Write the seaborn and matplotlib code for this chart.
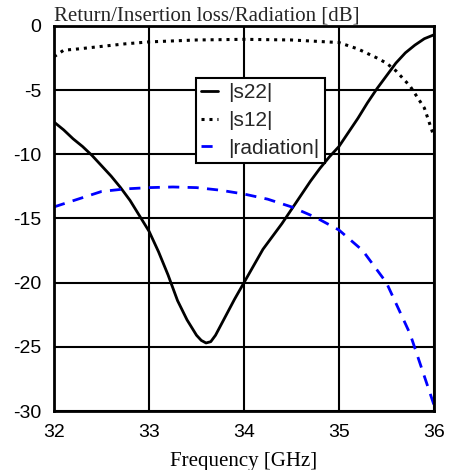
import numpy as np
import pandas as pd
import seaborn as sns
import matplotlib.pyplot as plt

# --- data ---
freq_s22 = [32.0, 32.1, 32.2, 32.3, 32.4, 32.5, 32.6, 32.7, 32.8, 32.9, 33.0, 33.1,
            33.2, 33.3, 33.4, 33.5, 33.55, 33.6, 33.65, 33.7, 33.8, 33.9, 34.0, 34.1,
            34.2, 34.3, 34.4, 34.5, 34.6, 34.7, 34.8, 34.9, 35.0, 35.1, 35.2, 35.3,
            35.4, 35.5, 35.6, 35.7, 35.8, 35.9, 36.0]
s22 = [-7.5, -8.1, -8.8, -9.4, -10.1, -10.9, -11.7, -12.6, -13.6, -14.8, -16.0, -17.6,
       -19.4, -21.4, -22.9, -24.1, -24.5, -24.7, -24.6, -24.1, -22.7, -21.3, -20.0, -18.7,
       -17.4, -16.4, -15.4, -14.3, -13.2, -12.1, -11.1, -10.2, -9.4, -8.3, -7.2, -6.0,
       -4.9, -3.9, -2.9, -2.1, -1.5, -1.0, -0.7]

freq_s12 = [32.0, 32.1, 32.25, 32.5, 32.75, 33.0, 33.5, 34.0, 34.5, 35.0, 35.2, 35.4,
            35.5, 35.6, 35.75, 35.9, 36.0]
s12 = [-2.4, -1.9, -1.8, -1.6, -1.4, -1.25, -1.1, -1.05, -1.1, -1.3, -1.8, -2.5,
       -2.9, -3.5, -4.7, -6.4, -8.6]

freq_rad = [32.0, 32.25, 32.5, 32.75, 33.0, 33.25, 33.5, 33.75, 34.0, 34.25, 34.5, 34.75,
            35.0, 35.25, 35.5, 35.75, 36.0]
radiation = [-14.1, -13.5, -12.9, -12.7, -12.6, -12.55, -12.6, -12.8, -13.1, -13.5, -14.1, -14.9,
             -15.9, -17.5, -20.0, -24.0, -29.5]

x_ticks = [32, 33, 34, 35, 36]
y_ticks = [0, -5, -10, -15, -20, -25, -30]

sns.set_style("white")
plt.rcParams['font.family'] = ['Liberation Sans', 'DejaVu Sans']
plt.rcParams['axes.unicode_minus'] = False

fig = plt.figure(figsize=(4.51, 4.70), dpi=100)
ax = fig.add_axes([0.12, 0.1255, 0.842, 0.8195])

sns.lineplot(x=freq_s22, y=s22, ax=ax, color='black', lw=2, label='|s22|')
sns.lineplot(x=freq_s12, y=s12, ax=ax, color='black', lw=2.2, linestyle=(0, (1, 1.6)),
             label='|s12|')
sns.lineplot(x=freq_rad, y=radiation, ax=ax, color='#0000ff', lw=2, linestyle=(0, (4, 3)),
             label='|radiation|')

ax.set_xlim(32, 36)
ax.set_ylim(-30, 0)
ax.set_xticks(x_ticks)
ax.set_yticks(y_ticks)
ax.set_xticks([32.5, 33.5, 34.5, 35.5], minor=True)
ax.set_yticks([-2.5, -7.5, -12.5, -17.5, -22.5, -27.5], minor=True)
ax.tick_params(which='major', length=0, labelsize=14, labelcolor='black')
ax.tick_params(axis='x', which='major', pad=9)
ax.tick_params(axis='y', which='major', pad=9)
ax.tick_params(which='minor', length=3, width=1, color='black', direction='out')
ax.grid(True, which='major', color='black', lw=1.5)
for sp in ax.spines.values():
    sp.set_color('black')
    sp.set_linewidth(2)

serif = ['Liberation Serif', 'DejaVu Serif']
ax.set_xlabel('Frequency [GHz]', family=serif, fontsize=15, labelpad=8, color='black')
ax.set_ylabel('')
ax.text(0.0, 1.0, 'Return/Insertion loss/Radiation [dB]', transform=ax.transAxes,
        family=serif, fontsize=15, ha='left', va='bottom')

leg = ax.legend(loc='upper left', bbox_to_anchor=(0.374, 0.865), fontsize=15,
                handlelength=0.8, handletextpad=0.5, borderpad=0.25, labelspacing=0.42,
                fancybox=False, framealpha=1, edgecolor='black', borderaxespad=0)
leg.get_frame().set_linewidth(1.5)

fig.savefig('out.png', dpi=100)
